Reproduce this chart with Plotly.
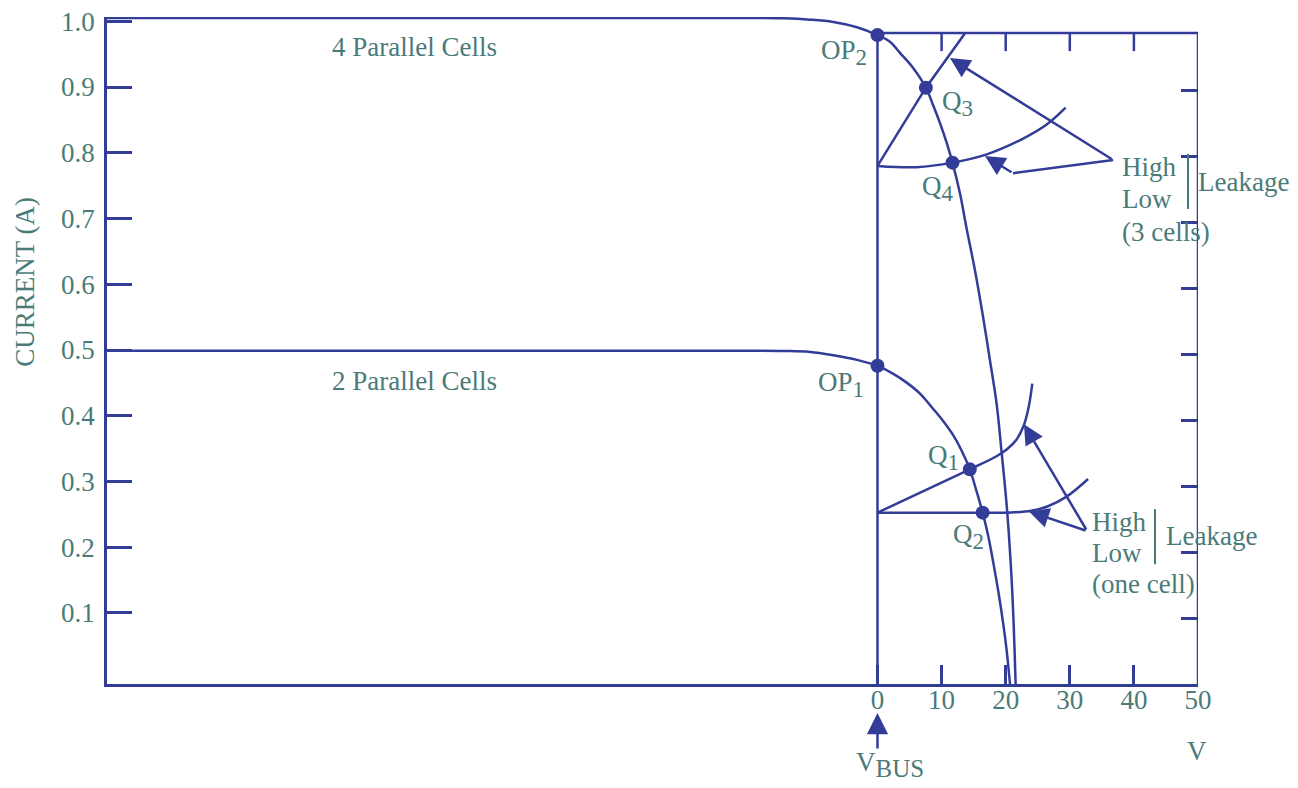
import plotly.graph_objects as go

# ---- data -----------------------------------------------------------------
# I-V characteristic of the 4-parallel-cell array (V, A)
cells4_v = [-120.2, -40, -20, -14.7, -10.5, -6.9, -3.2, 0, 1.95, 3.5, 5.59, 7.55,
            8.7, 9.75, 10.8, 11.7, 12.87, 13.92, 15.21, 16.46, 17.55, 18.6, 19.37,
            20.16, 20.78, 21.19, 21.55]
cells4_i = [1.005, 1.005, 1.005, 1.0045, 1.0025, 0.999, 0.991, 0.979, 0.9688, 0.952,
            0.9286, 0.899, 0.8718, 0.845, 0.815, 0.785, 0.738, 0.684, 0.621, 0.551,
            0.484, 0.417, 0.3435, 0.263, 0.176, 0.096, -0.008]

# I-V characteristic of the 2-parallel-cell array (V, A)
cells2_v = [-120.2, -40, -20, -14.7, -10.5, -6.9, -3.2, 0, 2.47, 4.55, 6.63, 8.7,
            10.27, 11.83, 13.13, 14.4, 15.37, 16.4, 17.29, 18.07, 18.85, 19.63,
            20.16, 20.67]
cells2_i = [0.499, 0.499, 0.499, 0.4985, 0.497, 0.492, 0.485, 0.476, 0.4638, 0.4504,
            0.4337, 0.4103, 0.3916, 0.3701, 0.3468, 0.3185, 0.288, 0.2526, 0.2164,
            0.1762, 0.1327, 0.0827, 0.0425, -0.008]

# Leakage load lines, one cell
low1_v = [0, 16.4, 21, 24, 26.5, 29.5, 32.85]
low1_i = [0.2526, 0.2526, 0.2530, 0.2555, 0.262, 0.277, 0.3038]
high1_v = [0, 14.4, 18.5, 20.2, 21.7, 22.85, 23.6, 24.15]
high1_i = [0.2526, 0.3185, 0.338, 0.349, 0.364, 0.386, 0.414, 0.449]

# Leakage load lines, three cells
low3_v = [0, 6.1, 11.7, 17.04, 22.2, 26.4, 29.35]
low3_i = [0.780, 0.778, 0.785, 0.7976, 0.819, 0.843, 0.8685]
high3_v = [0, 7.55, 13.6]
high3_i = [0.780, 0.899, 0.981]

# Operating points
op_base = ["OP", "Q", "Q", "OP", "Q", "Q"]
op_sub = ["2", "3", "4", "1", "1", "2"]
op_v = [0, 7.55, 11.7, 0, 14.4, 16.4]
op_i = [0.979, 0.899, 0.785, 0.476, 0.3185, 0.2526]

# Axes
x_ticks = [0, 10, 20, 30, 40, 50]
x_ticktext = ["0", "10", "20", "30", "40", "50"]
y_ticks = [0.1, 0.2, 0.3, 0.4, 0.5, 0.6, 0.7, 0.8, 0.9, 1.0]
y_ticktext = ["0.1", "0.2", "0.3", "0.4", "0.5", "0.6", "0.7", "0.8", "0.9", "1.0"]
right_ticks = [0.1, 0.2, 0.3, 0.4, 0.5, 0.6, 0.7, 0.8, 0.9]
top_ticks = [10, 20, 30, 40]

X_MIN, X_MAX = -120.2, 50
Y_MIN, Y_MAX = -0.008, 1.0065
BOX_TOP = 0.982

LINE = "#333d98"
TEXT = "#4a7b79"
FONT = "Liberation Serif"
FS = 27
SUB_FS = 23

fig = go.Figure()


def sub(base, s, size=SUB_FS):
    return f"{base}<sub><span style='font-size:{size}px'>{s}</span></sub>"


def curve(x, y, shape="spline"):
    fig.add_trace(go.Scatter(x=x, y=y, mode="lines", hoverinfo="skip",
                             line=dict(color=LINE, width=2.5, shape=shape,
                                       smoothing=1.0),
                             showlegend=False))


# box around the positive-voltage region and the V_BUS = 0 line
curve([X_MAX, X_MAX, 0, 0], [Y_MIN, BOX_TOP, BOX_TOP, Y_MIN], shape="linear")

curve(cells4_v, cells4_i)
curve(cells2_v, cells2_i)
curve(low1_v, low1_i)
curve(high1_v, high1_i)
curve(low3_v, low3_i)
curve(high3_v, high3_i, shape="linear")

# polyline leg of the low-leakage (3 cells) pointer
curve([36.76, 21.14], [0.789, 0.769], shape="linear")

fig.add_trace(go.Scatter(x=op_v, y=op_i, mode="markers", hoverinfo="skip",
                         marker=dict(color=LINE, size=14), showlegend=False))

# carrier for the right-hand tick scale
fig.add_trace(go.Scatter(x=[X_MAX], y=[0.5], yaxis="y2", mode="markers",
                         marker=dict(opacity=0), hoverinfo="skip",
                         showlegend=False))

# ticks on the top edge of the box
for tv in top_ticks:
    fig.add_shape(type="line", xref="x", yref="y", ysizemode="pixel",
                  yanchor=BOX_TOP, x0=tv, x1=tv, y0=0, y1=-18,
                  line=dict(color=LINE, width=2.5))

# separator bars of the leakage legends
fig.add_shape(type="line", xref="x", yref="y", x0=48.44, x1=48.44, y0=0.7144,
              y1=0.798, line=dict(color=TEXT, width=2))
fig.add_shape(type="line", xref="x", yref="y", x0=43.29, x1=43.29, y0=0.1742,
              y1=0.258, line=dict(color=TEXT, width=2))


def label(text, x, y, xanchor="left", yanchor="middle", yref="y", **kw):
    fig.add_annotation(text=text, x=x, y=y, xref="x", yref=yref,
                       xanchor=xanchor, yanchor=yanchor, showarrow=False,
                       font=dict(family=FONT, size=FS, color=TEXT), **kw)


label("4 Parallel Cells", -85.4, 0.9608)
label("2 Parallel Cells", -85.4, 0.4529)

# operating point labels
label(sub(op_base[0], op_sub[0]), -1.4, 0.953, xanchor="right")
label(sub(op_base[1], op_sub[1]), 9.75, 0.8756)
label(sub(op_base[2], op_sub[2]), 6.63, 0.7464)
label(sub(op_base[3], op_sub[3]), -1.8, 0.447, xanchor="right")
label(sub(op_base[4], op_sub[4]), 7.57, 0.337)
label(sub(op_base[5], op_sub[5]), 11.47, 0.217)

# leakage legends
label("High", 37.83, 0.7786)
label("Low", 37.83, 0.7299)
label("(3 cells)", 37.83, 0.6797)
label("Leakage", 49.7, 0.7557)
label("High", 33.15, 0.2384)
label("Low", 33.15, 0.1913)
label("(one cell)", 33.15, 0.144)
label("Leakage", 44.7, 0.217)

# unit and bus-voltage labels below the axis
label("V", 49.85, -0.1004, xanchor="center", yref="paper")
label(sub("V", "BUS", 25), 1.9, -0.1214, xanchor="center", yref="paper")


def arrow(x, y, ax, ay, size=1.6):
    fig.add_annotation(x=x, y=y, ax=ax, ay=ay, xref="x", yref="y",
                       axref="x", ayref="y", text="", showarrow=True,
                       arrowhead=2, arrowsize=size, arrowwidth=2.5,
                       arrowcolor=LINE)


arrow(11.3, 0.944, 36.76, 0.789)
arrow(16.77, 0.795, 21.14, 0.769)
arrow(22.85, 0.387, 32.7, 0.2247)
arrow(23.63, 0.2545, 32.7, 0.2247)

# V_BUS pointer
fig.add_annotation(x=0, y=-0.0435, ax=0, ay=37, xref="x", yref="paper",
                   text="", showarrow=True, arrowhead=2, arrowsize=1.7,
                   arrowwidth=2.5, arrowcolor=LINE)

# axis title
fig.add_annotation(text="CURRENT (A)", xref="paper", yref="paper", x=0,
                   y=0.603, xshift=-82, xanchor="center", yanchor="middle",
                   textangle=-90, showarrow=False,
                   font=dict(family=FONT, size=FS, color=TEXT))

axis_common = dict(showgrid=False, zeroline=False, ticks="inside",
                   tickcolor=LINE, tickwidth=2.5,
                   tickfont=dict(family=FONT, size=FS, color=TEXT))

fig.update_layout(
    width=1298, height=788,
    margin=dict(l=107, r=100, t=17, b=104, autoexpand=False),
    paper_bgcolor="white", plot_bgcolor="white",
    xaxis=dict(range=[X_MIN, X_MAX], tickvals=x_ticks, ticktext=x_ticktext,
               ticklen=19, showline=True, linecolor=LINE, linewidth=2.5,
               ticklabelstandoff=-10, **axis_common),
    yaxis=dict(range=[Y_MIN, Y_MAX], tickvals=y_ticks, ticktext=y_ticktext,
               ticklen=25, showline=True, linecolor=LINE, linewidth=2.5,
               ticklabelstandoff=4, **axis_common),
    yaxis2=dict(range=[0.0015, 1.012], overlaying="y", side="right",
                anchor="x", tickvals=right_ticks, ticklen=17,
                showticklabels=False, showline=False, **axis_common),
)

fig.write_html("out.html")
